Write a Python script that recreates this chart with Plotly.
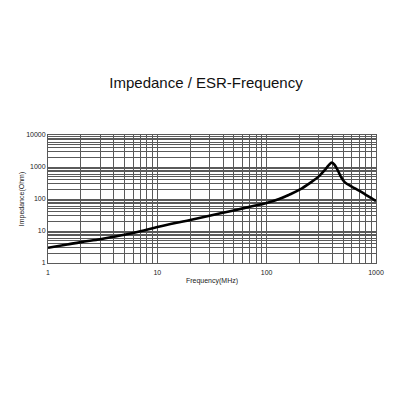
import plotly.graph_objects as go

# * impedance curve (MHz, Ohm)
freq_mhz = [1, 1.5, 2, 3, 4, 5, 7, 10, 15, 20, 30, 50, 70, 100, 130, 160, 200, 250, 300, 340, 370, 395, 420, 450, 480, 520, 600, 700, 800, 900, 1000]
impedance_ohm = [3.0, 3.8, 4.5, 5.5, 6.6, 7.6, 9.8, 13.3, 18, 22, 30, 44, 57, 75, 100, 135, 195, 320, 510, 800, 1150, 1370, 1150, 750, 480, 330, 245, 182, 138, 108, 86]

x_tickvals = [1, 10, 100, 1000]
x_ticktext = ["1", "10", "100", "1000"]
y_tickvals = [1, 10, 100, 1000, 10000]
y_ticktext = ["1", "10", "100", "1000", "10000"]

GRID = "#5a5a5a"
TXT = "#222222"
FONT = "Liberation Sans, Arial, sans-serif"

fig = go.Figure()
fig.add_trace(
    go.Scatter(
        x=freq_mhz,
        y=impedance_ohm,
        mode="lines",
        line=dict(color="black", width=2.6, shape="spline", smoothing=1.0),
        showlegend=False,
    )
)

axis_common = dict(
    type="log",
    automargin=False,
    showgrid=True,
    gridcolor=GRID,
    gridwidth=1,
    showline=True,
    linecolor=GRID,
    linewidth=1,
    mirror=True,
    ticks="",
    zeroline=False,
    tickfont=dict(family=FONT, size=7, color=TXT),
    minor=dict(dtick="D1", showgrid=True, gridcolor=GRID, gridwidth=1, ticks=""),
)

fig.update_xaxes(
    **axis_common,
    range=[0, 3],
    tickvals=x_tickvals,
    ticktext=x_ticktext,
    ticklabelstandoff=3,
    title=dict(text="Frequency(MHz)", font=dict(family=FONT, size=7, color=TXT), standoff=2),
)
fig.update_yaxes(
    **axis_common,
    range=[0, 4],
    tickvals=y_tickvals,
    ticktext=y_ticktext,
    title=dict(text="Impedance(Ohm)", font=dict(family=FONT, size=7, color=TXT), standoff=0),
)

# * page body adds 8px, margins compensate for it
fig.update_layout(
    width=400,
    height=400,
    margin=dict(l=40, r=32, t=127, b=145),
    plot_bgcolor="white",
    paper_bgcolor="white",
    title=dict(
        text="Impedance / ESR-Frequency",
        x=(206 - 8) / 400,
        xanchor="center",
        y=1 - (83 - 8) / 400,
        yanchor="middle",
        font=dict(family=FONT, size=15, color="#111111"),
    ),
)

fig.write_html("out.html")
